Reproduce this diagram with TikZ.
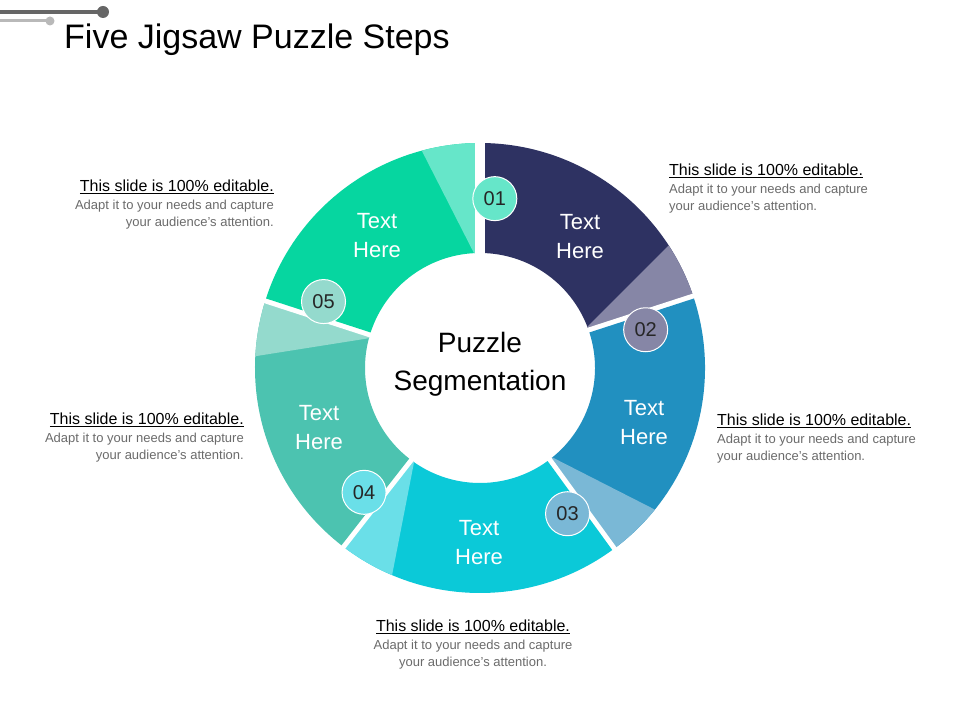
\documentclass[tikz,border=0pt]{standalone}
\usepackage{fontspec}
\setmainfont{Liberation Sans}
\definecolor{cA}{HTML}{2E3262}\definecolor{lA}{HTML}{8686A6}
\definecolor{cB}{HTML}{2190C0}\definecolor{lB}{HTML}{7AB8D6}
\definecolor{cC}{HTML}{0BC9D8}\definecolor{lC}{HTML}{6ADFE8}
\definecolor{cD}{HTML}{4CC3B0}\definecolor{lD}{HTML}{94DACD}
\definecolor{cE}{HTML}{06D6A0}\definecolor{lE}{HTML}{66E6C9}
\definecolor{body}{HTML}{6B6B6B}
\tikzset{
  seglabel/.style={text=white,font=\fontsize{22}{29}\selectfont,align=center},
  numcirc/.style={circle,minimum size=44pt,inner sep=0pt,draw=white,line width=1pt,text=black!85,font=\fontsize{20}{24}\selectfont},
  ttl/.style={font=\fontsize{16}{19}\selectfont,inner sep=0pt},
  bdy/.style={font=\fontsize{13}{17}\selectfont,text=body,inner sep=0pt},
}
\begin{document}
\begin{tikzpicture}[x=1pt,y=1pt]
\useasboundingbox (0,0) rectangle (960,720);
\fill[white] (0,0) rectangle (960,720);
% decoration
\draw[line width=4pt,gray!80!black] (0,708) coordinate (d1) -- (103,708) coordinate (d2);
\fill[gray!80!black] (d2) circle (6);
\draw[line width=3pt,gray!55] (0,699) coordinate (d3) -- (50,699) coordinate (d4);
\fill[gray!55] (d4) circle (4.5);
\node[anchor=west,inner sep=0pt,font=\fontsize{34}{40}\selectfont] (title) at (64,680) {Five Jigsaw Puzzle Steps};
\begin{scope}[shift={(480,352)}]
\foreach \s/\b/\m/\l in {90/18/cA/lA,18/-54/cB/lB,-54/-128/cC/lC,232/162/cD/lD,162/90/cE/lE}{
  \fill[\m] (\s:225) arc[start angle=\s,end angle=\b,radius=225] -- (\b:115) arc[start angle=\b,end angle=\s,radius=115] -- cycle;
  \pgfmathsetmacro{\o}{\b+15}\pgfmathsetmacro{\i}{\b+3}
  \fill[\l] (\o:225) arc[start angle=\o,end angle=\b,radius=225] -- (\b:115) arc[start angle=\b,end angle=\i,radius=115] -- cycle;
  \draw[white,line width=10pt] (\b:108) -- (\b:232);
}
\foreach \a/\c/\t/\n in {85/lE/01/n1,13/lA/02/n2,-59/lB/03/n3,-133/lC/04/n4,157/lD/05/n5}{
  \node[numcirc,fill=\c] (\n) at (\a:170) {\t};
}
\end{scope}
\node[seglabel] (t1) at (580,483) {Text\\Here};
\node[seglabel] (t2) at (644,297) {Text\\Here};
\node[seglabel] (t3) at (479,177) {Text\\Here};
\node[seglabel] (t4) at (319,292) {Text\\Here};
\node[seglabel] (t5) at (377,484) {Text\\Here};
\node[align=center,font=\fontsize{28}{38}\selectfont] (ctr) at (480,356) {Puzzle\\Segmentation};
% text blocks
\node[ttl,anchor=west] (a1) at (669,549) {\underline{This slide is 100\% editable.}};
\node[bdy,anchor=north west,align=left] (b1) at (669,536) {Adapt it to your needs and capture\\your audience's attention.};
\node[ttl,anchor=east] (a2) at (274,533) {\underline{This slide is 100\% editable.}};
\node[bdy,anchor=north east,align=right] (b2) at (274,520) {Adapt it to your needs and capture\\your audience's attention.};
\node[ttl,anchor=east] (a3) at (244,300) {\underline{This slide is 100\% editable.}};
\node[bdy,anchor=north east,align=right] (b3) at (244,287) {Adapt it to your needs and capture\\your audience's attention.};
\node[ttl,anchor=west] (a4) at (717,299) {\underline{This slide is 100\% editable.}};
\node[bdy,anchor=north west,align=left] (b4) at (717,286) {Adapt it to your needs and capture\\your audience's attention.};
\node[ttl] (a5) at (473,93) {\underline{This slide is 100\% editable.}};
\node[bdy,anchor=north,align=center] (b5) at (473,80) {Adapt it to your needs and capture\\your audience's attention.};
\end{tikzpicture}
\end{document}
